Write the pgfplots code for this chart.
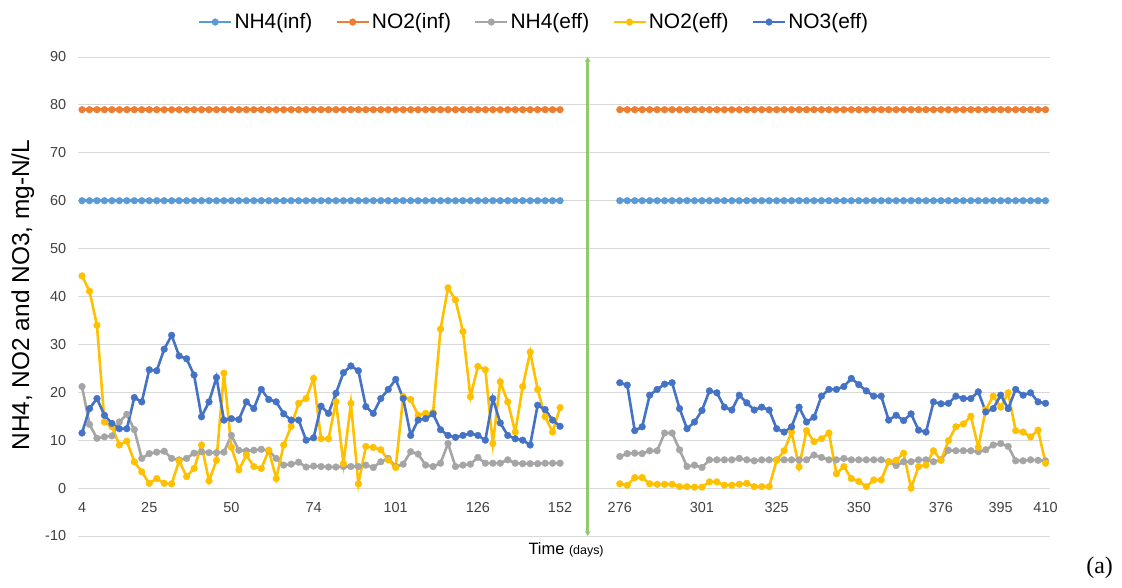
\documentclass[border=0pt]{standalone}
\usepackage{pgfplots}
\pgfplotsset{compat=1.18}
\usepackage{pgfplotstable}
\usepackage{fontspec}
\setmainfont{Liberation Sans}
\newfontfamily\seriffont{Liberation Serif}
\usetikzlibrary{arrows.meta}
\definecolor{cNHinf}{HTML}{5B9BD5}
\definecolor{cNOinf}{HTML}{ED7D31}
\definecolor{cNHeff}{HTML}{A5A5A5}
\definecolor{cNOeff}{HTML}{FFC000}
\definecolor{cNTeff}{HTML}{4472C4}
\definecolor{gridc}{HTML}{D9D9D9}
\definecolor{arrowc}{HTML}{92C96E}
\definecolor{tickc}{HTML}{404040}

\pgfplotstableread{
x nhinf noinf nheff noeff nteff
0 60 79 21.2 44.3 11.5
1 60 79 13.3 41.1 16.6
2 60 79 10.4 34.0 18.7
3 60 79 10.7 13.8 15.2
4 60 79 10.9 12.8 13.5
5 60 79 13.8 9.0 12.4
6 60 79 15.4 9.8 12.4
7 60 79 12.2 5.5 18.9
8 60 79 6.2 3.4 18.0
9 60 79 7.2 1.0 24.7
10 60 79 7.5 2.0 24.5
11 60 79 7.7 1.0 29.0
12 60 79 6.2 0.9 31.9
13 60 79 5.9 5.7 27.6
14 60 79 6.2 2.4 27.0
15 60 79 7.3 4.1 23.6
16 60 79 7.6 9.0 14.9
17 60 79 7.4 1.5 18.0
18 60 79 7.4 5.8 23.1
19 60 79 7.5 24.0 14.2
20 60 79 11.0 8.5 14.5
21 60 79 7.9 3.8 14.3
22 60 79 7.8 6.9 18.0
23 60 79 7.9 4.5 16.6
24 60 79 8.1 4.1 20.6
25 60 79 7.8 7.9 18.5
26 60 79 6.2 2.0 18.0
27 60 79 4.8 9.0 15.5
28 60 79 5.0 12.9 14.2
29 60 79 5.4 17.7 14.2
30 60 79 4.4 18.7 10.0
31 60 79 4.6 22.9 10.5
32 60 79 4.5 10.3 17.1
33 60 79 4.4 10.3 15.6
34 60 79 4.4 18.0 19.8
35 60 79 4.5 5.1 24.1
36 60 79 4.5 17.7 25.5
37 60 79 4.5 0.9 24.5
38 60 79 4.8 8.7 17.0
39 60 79 4.3 8.5 15.6
40 60 79 5.5 8.0 18.7
41 60 79 6.2 5.9 20.6
42 60 79 4.5 4.3 22.7
43 60 79 5.0 19.1 18.7
44 60 79 7.6 18.5 11.0
45 60 79 7.1 15.2 14.2
46 60 79 4.8 15.6 14.5
47 60 79 4.5 15.8 15.5
48 60 79 5.2 33.2 12.2
49 60 79 9.3 41.8 11.0
50 60 79 4.5 39.3 10.6
51 60 79 4.8 32.7 11.0
52 60 79 5.0 19.1 11.4
53 60 79 6.4 25.4 11.0
54 60 79 5.2 24.7 10.0
55 60 79 5.2 9.3 18.7
56 60 79 5.2 22.2 13.6
57 60 79 5.9 18.0 11.0
58 60 79 5.2 11.7 10.3
59 60 79 5.1 21.2 10.0
60 60 79 5.1 28.4 9.0
61 60 79 5.1 20.6 17.3
62 60 79 5.2 14.9 16.4
63 60 79 5.2 11.7 14.2
64 60 79 5.2 16.8 12.9
68 nan nan nan nan nan
72 60 79 6.6 0.9 22.0
73 60 79 7.2 0.6 21.5
74 60 79 7.3 2.2 12.0
75 60 79 7.2 2.2 12.8
76 60 79 7.8 0.9 19.4
77 60 79 7.8 0.8 20.6
78 60 79 11.5 0.8 21.7
79 60 79 11.5 0.8 22.0
80 60 79 8.0 0.3 16.6
81 60 79 4.5 0.3 12.4
82 60 79 4.8 0.2 13.8
83 60 79 4.3 0.2 16.2
84 60 79 5.9 1.3 20.3
85 60 79 5.9 1.3 19.9
86 60 79 5.9 0.6 16.9
87 60 79 5.9 0.6 16.3
88 60 79 6.2 0.8 19.4
89 60 79 5.9 1.0 17.8
90 60 79 5.7 0.3 16.3
91 60 79 5.9 0.3 16.9
92 60 79 5.9 0.3 16.3
93 60 79 5.9 5.8 12.4
94 60 79 5.9 7.8 11.7
95 60 79 5.9 11.7 12.8
96 60 79 5.9 4.4 16.9
97 60 79 5.9 12.0 13.8
98 60 79 6.9 9.7 14.8
99 60 79 6.4 10.3 19.2
100 60 79 5.9 11.5 20.6
101 60 79 5.9 3.0 20.6
102 60 79 6.2 4.5 21.2
103 60 79 5.9 2.0 22.9
104 60 79 5.9 1.4 21.6
105 60 79 5.9 0.3 20.3
106 60 79 5.9 1.7 19.2
107 60 79 5.9 1.7 19.2
108 60 79 5.5 5.5 14.2
109 60 79 4.7 5.8 15.2
110 60 79 5.5 7.3 14.1
111 60 79 5.5 0.0 15.5
112 60 79 5.9 4.5 12.1
113 60 79 5.9 4.8 11.7
114 60 79 5.5 7.8 18.0
115 60 79 5.9 5.8 17.6
116 60 79 7.9 9.9 17.7
117 60 79 7.8 12.8 19.2
118 60 79 7.8 13.4 18.7
119 60 79 7.8 15.0 18.7
120 60 79 7.6 8.5 20.1
121 60 79 8.0 16.4 15.9
122 60 79 9.0 19.2 16.6
123 60 79 9.3 16.9 19.4
124 60 79 8.7 19.9 16.6
125 60 79 5.7 12.0 20.6
126 60 79 5.7 11.7 19.4
127 60 79 5.9 10.7 19.9
128 60 79 5.8 12.1 18.0
129 60 79 5.7 5.2 17.7
}\data

\begin{document}
\begin{tikzpicture}
\useasboundingbox (-78.3bp,-52bp) rectangle (1043.7bp,536bp);
\begin{axis}[
  at={(0,0)}, anchor=south west,
  scale only axis, width=971.7bp, height=479bp,
  xmin=-0.5, xmax=129.6, ymin=-10, ymax=90,
  ytick={-10,0,10,20,30,40,50,60,70,80,90},
  xtick={0,9,20,31,42,53,64,72,83,93,104,115,123,129},
  xticklabels={4,25,50,74,101,126,152,276,301,325,350,376,395,410},
  axis line style={draw=none},
  major tick length=0pt,
  ymajorgrids, grid style={draw=gridc, line width=0.9bp},
  tick label style={font=\fontsize{14.5}{17}\selectfont, text=tickc, /pgf/number format/assume math mode=true},
  xticklabel style={anchor=base, inner sep=0pt, yshift=23.5bp},
  yticklabel style={anchor=east, inner sep=0pt, xshift=-12bp},
  unbounded coords=jump,
  clip=false,
  xlabel={Time {\fontsize{12.5}{15}\selectfont(days)}},
  xlabel style={at={(axis description cs:0.502,-0.029)}, anchor=center, font=\fontsize{16.5}{19}\selectfont, inner sep=0pt},
  ylabel={NH4, NO2 and NO3, mg-N/L},
  ylabel style={at={(axis description cs:-0.057,0.503)}, anchor=center, rotate=0, font=\fontsize{24.5}{28}\selectfont, inner sep=0pt},
  legend style={at={(axis description cs:0.469,1.073)}, anchor=center, draw=none, fill=none,
    font=\fontsize{21}{24}\selectfont, inner sep=0pt,
    /tikz/every even column/.append style={column sep=21bp}},
  legend columns=5,
  legend image code/.code={\draw[mark repeat=2, mark phase=2, #1] plot coordinates {(0bp,0bp) (16bp,0bp) (32bp,0bp)};},
]
\addplot[color=cNHinf, line width=2.6bp, mark=*, mark size=3.4bp, mark options={solid, fill=cNHinf, draw=cNHinf, line width=0.3bp}] table[x=x, y=nhinf] {\data};
\addlegendentry{NH4(inf)}
\addplot[color=cNOinf, line width=2.6bp, mark=*, mark size=3.4bp, mark options={solid, fill=cNOinf, draw=cNOinf, line width=0.3bp}] table[x=x, y=noinf] {\data};
\addlegendentry{NO2(inf)}
\addplot[color=cNHeff, line width=2.6bp, mark=*, mark size=3.4bp, mark options={solid, fill=cNHeff, draw=cNHeff, line width=0.3bp}] table[x=x, y=nheff] {\data};
\addlegendentry{NH4(eff)}
\addplot[color=cNOeff, line width=2.6bp, mark=*, mark size=3.4bp, mark options={solid, fill=cNOeff, draw=cNOeff, line width=0.3bp}] table[x=x, y=noeff] {\data};
\addlegendentry{NO2(eff)}
\addplot[color=cNTeff, line width=2.6bp, mark=*, mark size=3.4bp, mark options={solid, fill=cNTeff, draw=cNTeff, line width=0.3bp}] table[x=x, y=nteff] {\data};
\addlegendentry{NO3(eff)}
\addplot[forget plot, color=arrowc, line width=2.4bp, mark=none, {Stealth[length=5bp,width=6bp]}-{Stealth[length=5bp,width=6bp]}] coordinates {(67.7,-10) (67.7,90)};
\node[font=\seriffont\fontsize{24}{28}\selectfont, anchor=center] at (axis description cs:1.051,-0.067) {(a)};
\end{axis}
\end{tikzpicture}
\end{document}
